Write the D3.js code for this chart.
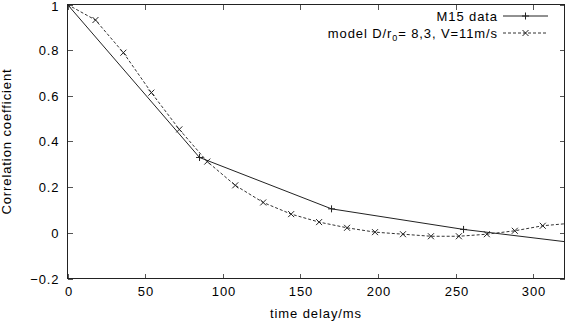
<!DOCTYPE html>
<html><head><meta charset="utf-8">
<script src="https://cdn.jsdelivr.net/npm/d3@7"></script>
<style>body{margin:0;background:#fff}svg{display:block}text{font-family:"Liberation Sans",Arial,sans-serif;font-size:13px;letter-spacing:0.9px;fill:#000}</style>
</head><body>
<svg id="c" width="566" height="324"></svg>
<script>
const m15T = [0, 85, 170, 255, 340];
const m15V = [1, 0.33, 0.105, 0.015, -0.055];
const modelT = [0,18,36,54,72,90,108,126,144,162,180,198,216,234,252,270,288,306,324];
const modelV = [1,0.932,0.789,0.614,0.453,0.312,0.208,0.133,0.082,0.047,0.022,0.003,-0.006,-0.015,-0.015,-0.006,0.009,0.031,0.042];
const xTicks = [0,50,100,150,200,250,300];
const yTicks = [-0.2,0,0.2,0.4,0.6,0.8,1];
const legendLabels = ["M15 data", "model D/r", "0", "= 8,3, V=11m/s"];
const xLabel = "time delay/ms", yLabel = "Correlation coefficient";

const svg = d3.select("#c");
const L=67.5,R=564.5,T=4.5,B=278.5;
const x = d3.scaleLinear().domain([0,320]).range([L,R]);
const y = d3.scaleLinear().domain([-0.2,1]).range([B,T]);

svg.append("clipPath").attr("id","cp").append("rect").attr("x",L).attr("y",T).attr("width",R-L).attr("height",B-T);

const tk = svg.append("g").attr("stroke","#555").attr("stroke-width",1).attr("shape-rendering","crispEdges");
xTicks.forEach(v=>{const px=Math.round(x(v))+0.5;
  tk.append("line").attr("x1",px).attr("x2",px).attr("y1",B).attr("y2",B-5);
  tk.append("line").attr("x1",px).attr("x2",px).attr("y1",T).attr("y2",T+5);
  svg.append("text").attr("x",px+0.5).attr("y",B+17).attr("text-anchor","middle").text(v);
});
yTicks.forEach(v=>{const py=Math.round(y(v))+0.5;
  tk.append("line").attr("x1",L).attr("x2",L+5).attr("y1",py).attr("y2",py);
  tk.append("line").attr("x1",R).attr("x2",R-5).attr("y1",py).attr("y2",py);
  svg.append("text").attr("x",L-8).attr("y",Math.max(py+4.5,11)).attr("text-anchor","end").text(d3.format("")(+v.toFixed(1)));
});
svg.append("rect").attr("x",L).attr("y",T).attr("width",R-L).attr("height",B-T).attr("fill","none").attr("stroke","#222").attr("stroke-width",1).attr("shape-rendering","crispEdges");

const line = d3.line().x(d=>x(d[0])).y(d=>y(d[1]));
const g = svg.append("g").attr("clip-path","url(#cp)");
const m15 = m15T.map((t,i)=>[t,m15V[i]]);
const model = modelT.map((t,i)=>[t,modelV[i]]);
g.append("path").attr("d",line(m15)).attr("fill","none").attr("stroke","#222").attr("stroke-width",1);
g.append("path").attr("d",line(model)).attr("fill","none").attr("stroke","#333").attr("stroke-width",1).attr("stroke-dasharray","3,2");
function plus(sel,cx,cy){sel.append("path").attr("d",`M${cx-3.5},${cy}H${cx+3.5}M${cx},${cy-3.5}V${cy+3.5}`).attr("stroke","#222").attr("stroke-width",1).attr("fill","none");}
function cross(sel,cx,cy){sel.append("path").attr("d",`M${cx-3},${cy-3}L${cx+3},${cy+3}M${cx-3},${cy+3}L${cx+3},${cy-3}`).attr("stroke","#222").attr("stroke-width",1).attr("fill","none");}
m15.forEach(d=>plus(g,x(d[0]),y(d[1])));
model.forEach(d=>cross(g,x(d[0]),y(d[1])));

const ly1=16, ly2=33;
svg.append("text").attr("x",498).attr("y",ly1+4.5).attr("text-anchor","end").text(legendLabels[0]);
svg.append("line").attr("x1",503).attr("x2",548).attr("y1",ly1).attr("y2",ly1).attr("stroke","#222");
plus(svg,525.5,ly1);
const t2 = svg.append("text").attr("x",498).attr("y",ly2+4.5).attr("text-anchor","end");
t2.append("tspan").text(legendLabels[1]);
t2.append("tspan").attr("dy",3).attr("font-size","9px").text(legendLabels[2]);
t2.append("tspan").attr("dy",-3).text(legendLabels[3]);
svg.append("line").attr("x1",503).attr("x2",548).attr("y1",ly2).attr("y2",ly2).attr("stroke","#333").attr("stroke-dasharray","3,2");
cross(svg,525.5,ly2);

svg.append("text").attr("x",(L+R)/2).attr("y",318).attr("text-anchor","middle").text(xLabel);
svg.append("text").attr("transform",`translate(11,${(T+B)/2}) rotate(-90)`).attr("text-anchor","middle").text(yLabel);
</script></body></html>
